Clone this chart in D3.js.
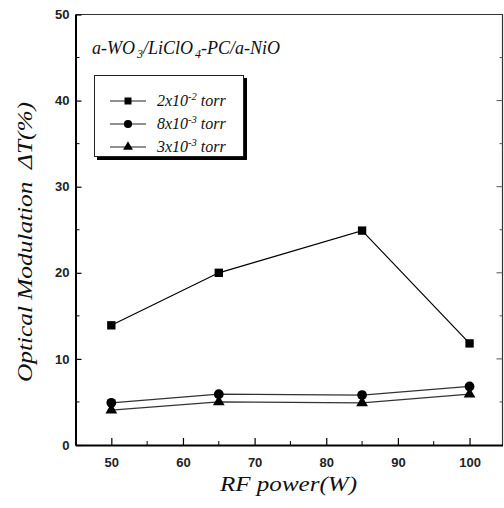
<!DOCTYPE html>
<html>
<head>
<meta charset="utf-8">
<script src="https://cdn.jsdelivr.net/npm/d3@7"></script>
<style>
  html, body { margin: 0; padding: 0; background: #fff; }
  svg { display: block; }
</style>
</head>
<body>
<svg id="chart" width="504" height="508"></svg>
<script>
// RF power (W) at which the films were sputtered
const rfPower = [50, 65, 85, 100];
// Optical modulation ΔT (%) for each working pressure
const seriesHigh = [13.9, 20.0, 24.9, 11.8];   // 2x10^-2 torr
const seriesMid  = [4.9, 5.9, 5.8, 6.8];       // 8x10^-3 torr
const seriesLow  = [4.05, 5.0, 4.9, 5.9];      // 3x10^-3 torr
const seriesNames = ["2x10", "8x10", "3x10"];
const seriesExp = ["-2", "-3", "-3"];
const xTicks = [50, 60, 70, 80, 90, 100];
const yTicks = [0, 10, 20, 30, 40, 50];

const svg = d3.select("#chart");
const plotLeft = 75.5, plotRight = 502.5, plotTop = 14.5, plotBottom = 445;

const x = d3.scaleLinear().domain([45, 104.6]).range([plotLeft, plotRight]);
const y = d3.scaleLinear().domain([0, 50]).range([plotBottom, plotTop]);

// frame: top and right edges
svg.append("path")
  .attr("d", `M${plotLeft},${plotTop}H${plotRight}V${plotBottom}`)
  .attr("fill", "none").attr("stroke", "#333").attr("stroke-width", 1.2);

// bottom axis, ticks pointing into the plot
const xAxis = svg.append("g").attr("transform", `translate(0,${plotBottom})`)
  .call(d3.axisBottom(x).tickValues(xTicks).tickSize(-7).tickSizeOuter(0).tickPadding(17).tickFormat(d3.format("d")));
xAxis.append("g").selectAll("line")
  .data(d3.range(55, 100, 10)).join("line")
  .attr("x1", d => x(d)).attr("x2", d => x(d)).attr("y1", 0).attr("y2", -4)
  .attr("stroke", "#000");

// left axis
const yAxis = svg.append("g").attr("transform", `translate(${plotLeft},0)`)
  .call(d3.axisLeft(y).tickValues(yTicks).tickSize(-6).tickSizeOuter(0).tickPadding(6).tickFormat(d3.format("d")));
yAxis.append("g").selectAll("line")
  .data(d3.range(5, 50, 10)).join("line")
  .attr("y1", d => y(d)).attr("y2", d => y(d)).attr("x1", 0).attr("x2", 4)
  .attr("stroke", "#000");

// right edge ticks mirrored inward
svg.append("g").selectAll("line")
  .data(d3.range(5, 50, 5)).join("line")
  .attr("y1", d => y(d)).attr("y2", d => y(d))
  .attr("x1", plotRight).attr("x2", d => plotRight - (d % 10 === 0 ? 6 : 3))
  .attr("stroke", "#555");

[xAxis, yAxis].forEach(g => {
  g.select(".domain").attr("stroke", "#000").attr("stroke-width", 2);
  g.selectAll(".tick line").attr("stroke", "#000").attr("stroke-width", 1.2);
  g.selectAll(".tick text")
    .attr("font-family", "Liberation Sans, Arial, sans-serif")
    .attr("font-size", 13).attr("font-weight", "bold").attr("fill", "#222");
});
xAxis.selectAll(".tick text").attr("dy", "0.35em");

// data series
const line = d3.line().x((d, i) => x(rfPower[i])).y(d => y(d));
const series = [
  { values: seriesHigh, shape: d3.symbolSquare, size: 70, color: "#000" },
  { values: seriesMid,  shape: d3.symbolCircle, size: 75, color: "#333" },
  { values: seriesLow,  shape: d3.symbolTriangle, size: 60, color: "#333" }
];

series.forEach(s => {
  svg.append("path").datum(s.values)
    .attr("d", line).attr("fill", "none")
    .attr("stroke", s.color).attr("stroke-width", 1.2);
  svg.append("g").selectAll("path").data(s.values).join("path")
    .attr("transform", (d, i) => `translate(${x(rfPower[i])},${y(d)})`)
    .attr("d", d3.symbol().type(s.shape).size(s.size))
    .attr("fill", "#000");
});

// cell stack label
const serif = "Liberation Serif, Times New Roman, serif";
const stack = svg.append("text")
  .attr("x", 92).attr("y", 54)
  .attr("font-family", serif).attr("font-style", "italic").attr("font-size", 18).attr("fill", "#111");
stack.append("tspan").text("a-WO");
stack.append("tspan").text("3").attr("font-size", 12).attr("dx", 2).attr("dy", 4);
stack.append("tspan").text("/LiClO").attr("dy", -4);
stack.append("tspan").text("4").attr("font-size", 12).attr("dx", 2).attr("dy", 4);
stack.append("tspan").text("-PC/a-NiO").attr("dy", -4);

// legend with drop shadow
const lg = svg.append("g");
lg.append("rect").attr("x", 97).attr("y", 78).attr("width", 150).attr("height", 82).attr("fill", "#000");
lg.append("rect").attr("x", 94.5).attr("y", 75.5).attr("width", 149).attr("height", 81)
  .attr("fill", "#fff").attr("stroke", "#222").attr("stroke-width", 1);

const rowY = [101, 124, 147];
series.forEach((s, i) => {
  const ry = rowY[i];
  lg.append("line").attr("x1", 110).attr("x2", 146).attr("y1", ry).attr("y2", ry)
    .attr("stroke", "#222").attr("stroke-width", 1.1);
  lg.append("path").attr("transform", `translate(128,${ry})`)
    .attr("d", d3.symbol().type(s.shape).size(s.size * 0.7)).attr("fill", "#000");
  const t = lg.append("text").attr("x", 157).attr("y", ry + 5)
    .attr("font-family", serif).attr("font-style", "italic").attr("font-size", 16).attr("fill", "#111");
  t.append("tspan").text(seriesNames[i]);
  t.append("tspan").text(seriesExp[i]).attr("font-size", 10.5).attr("dy", -6);
  t.append("tspan").text(" torr").attr("dy", 6);
});

// axis titles
svg.append("text")
  .attr("x", 220).attr("y", 491)
  .attr("font-family", serif).attr("font-style", "italic").attr("font-size", 22).attr("fill", "#111")
  .attr("textLength", 137).attr("lengthAdjust", "spacingAndGlyphs")
  .text("RF power(W)");
svg.append("text")
  .attr("transform", "translate(32,382) rotate(-90)")
  .attr("font-family", serif).attr("font-style", "italic").attr("font-size", 22).attr("fill", "#111")
  .attr("xml:space", "preserve")
  .attr("textLength", 280).attr("lengthAdjust", "spacingAndGlyphs")
  .text("Optical Modulation  ΔT(%)");
</script>
</body>
</html>
